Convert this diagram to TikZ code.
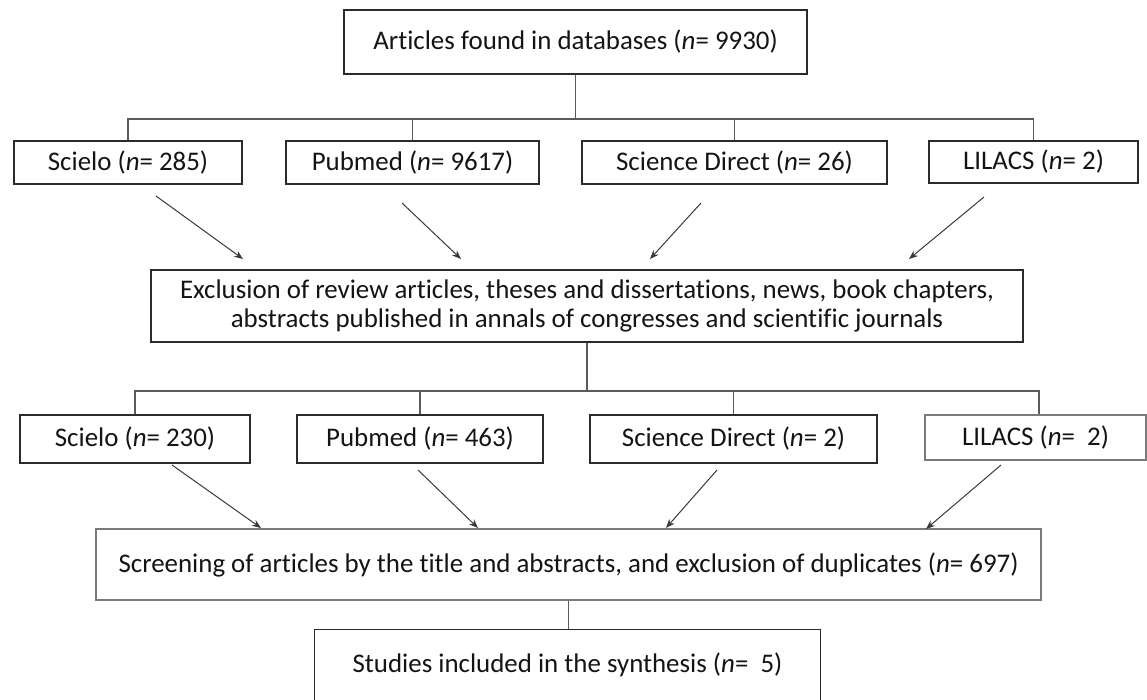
\documentclass[tikz,border=0pt]{standalone}
\usepackage{fontspec}
\setmainfont{Carlito}[RawFeature={-liga;-clig;-dlig}]
\usetikzlibrary{arrows.meta,calc}
\definecolor{boxline}{HTML}{2B2B2B}
\definecolor{lightbox}{HTML}{7A7A7A}
\definecolor{treeline}{HTML}{5A5A5A}
\definecolor{arrline}{HTML}{3A3A3A}
\tikzset{
  box/.style={draw=boxline, line width=1.3pt, inner sep=0pt, align=center,
    font=\fontsize{26.9}{28.5}\selectfont, text=black!92},
  tree/.style={draw=treeline, line width=1.2pt},
  arr/.style={draw=arrline, line width=1pt, -{Stealth[length=9pt,width=7pt]}},
}
\begin{document}
\begin{tikzpicture}[x=1pt,y=-1pt]
\fill[white] (0,0) rectangle (1147,700);
\useasboundingbox (0,0) rectangle (1147,700);
% row 0
\node[box, minimum width=463pt, minimum height=64pt] (top) at (575.5,42) {Articles found in databases (\textit{n}= 9930)};
% row 1
\node[box, minimum width=228pt, minimum height=43pt] (sc1) at (128,162.5) {Scielo (\textit{n}= 285)};
\node[box, minimum width=253pt, minimum height=43pt] (pu1) at (412.5,162.5) {Pubmed (\textit{n}= 9617)};
\node[box, minimum width=305pt, minimum height=43pt] (sd1) at (734.5,162.5) {Science Direct (\textit{n}= 26)};
\node[box, minimum width=209pt, minimum height=42pt] (li1) at (1033.5,162) {LILACS (\textit{n}= 2)};
% exclusion
\node[box, minimum width=872pt, minimum height=72pt] (ex) at (587,306)
  {Exclusion of review articles, theses and dissertations, news, book chapters,\\
   abstracts published in annals of congresses and scientific journals};
% row 2
\node[box, minimum width=230pt, minimum height=48pt] (sc2) at (135,439) {Scielo (\textit{n}= 230)};
\node[box, minimum width=246pt, minimum height=48pt] (pu2) at (420,439) {Pubmed (\textit{n}= 463)};
\node[box, minimum width=287pt, minimum height=48pt] (sd2) at (733.5,439) {Science Direct (\textit{n}= 2)};
\node[box, draw=lightbox, minimum width=221pt, minimum height=45pt] (li2) at (1035.5,437.5) {LILACS (\textit{n}=\ \ 2)};
% screening
\node[box, draw=lightbox, minimum width=945pt, minimum height=71pt] (scr) at (568.5,564.5)
  {Screening of articles by the title and abstracts, and exclusion of duplicates (\textit{n}= 697)};
% studies (bottom edge lies at the page border)
\node[box, draw=none, minimum width=505pt, minimum height=70pt] (stu) at (567.5,665)
  {Studies included in the synthesis (\textit{n}=\ \ 5)};
\draw[boxline, line width=1.3pt] (stu.south west) |- (stu.north east) -- (stu.south east);
% tree 1
\coordinate (bus1) at (0,119);
\draw[tree] (top.south) -- (top.south |- bus1);
\draw[tree] (sc1.north) -- (sc1.north |- bus1) -- (li1.north |- bus1) -- (li1.north);
\draw[tree] (pu1.north) -- (pu1.north |- bus1);
\draw[tree] (sd1.north) -- (sd1.north |- bus1);
% tree 2
\coordinate (bus2) at (0,391);
\draw[tree] (ex.south) -- (ex.south |- bus2);
\draw[tree] (sc2.north) -- (sc2.north |- bus2) -- ($(li2.north |- bus2)+(3.5,0)$) -- ($(li2.north)+(3.5,0)$);
\draw[tree] (pu2.north) -- (pu2.north |- bus2);
\draw[tree] (sd2.north) -- (sd2.north |- bus2);
% tree 3
\draw[tree] (scr.south) -- (scr.south |- stu.north);
% arrows row 1
\coordinate (a1s) at (156,196); \coordinate (a1e) at (243,259);
\coordinate (a2s) at (402,203); \coordinate (a2e) at (461,259);
\coordinate (a3s) at (701,203); \coordinate (a3e) at (650,259);
\coordinate (a4s) at (984,197); \coordinate (a4e) at (909,259);
\draw[arr] (a1s) -- (a1e);
\draw[arr] (a2s) -- (a2e);
\draw[arr] (a3s) -- (a3e);
\draw[arr] (a4s) -- (a4e);
% arrows row 2
\coordinate (b1s) at (172,465); \coordinate (b1e) at (261,528);
\coordinate (b2s) at (418,470); \coordinate (b2e) at (478,528);
\coordinate (b3s) at (717,470); \coordinate (b3e) at (666,528);
\coordinate (b4s) at (1001,465); \coordinate (b4e) at (926,529);
\draw[arr] (b1s) -- (b1e);
\draw[arr] (b2s) -- (b2e);
\draw[arr] (b3s) -- (b3e);
\draw[arr] (b4s) -- (b4e);
\end{tikzpicture}
\end{document}
